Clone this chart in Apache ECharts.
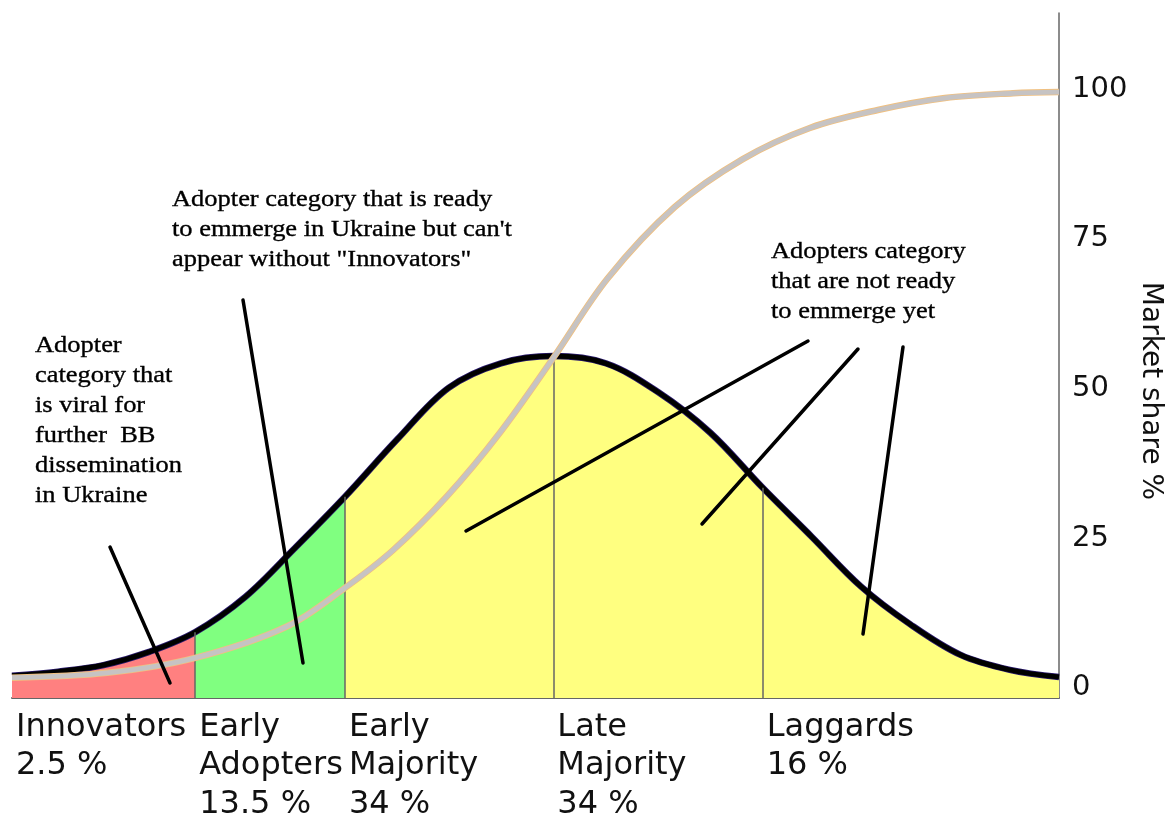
<!DOCTYPE html>
<html>
<head>
<meta charset="utf-8">
<title>Diffusion of innovations</title>
<script src="https://cdn.jsdelivr.net/npm/echarts@6/dist/echarts.min.js"></script>
<style>
  html, body { margin: 0; padding: 0; background: #fff; }
  #chart { width: 1169px; height: 816px; }
</style>
</head>
<body>
<div id="chart"></div>
<script>
// adopter categories, shares and where each one starts on the x scale (0..100)
var categories = ["Innovators", "Early\nAdopters", "Early\nMajority", "Late\nMajority", "Laggards"];
var shares = [2.5, 13.5, 34, 34, 16];
var catStart = [0, 17.5, 31.8, 51.7, 71.7];

// bell curve (adopters)
var bellX = [0, 4.4, 8.75, 13.1, 17.5, 22.3, 27.0, 31.8, 36.8, 41.7, 46.7, 51.7, 56.7, 61.7, 66.7, 71.7, 76.4, 81.1, 85.8, 90.6, 95.3, 100];
var bellY = [2.0, 2.7, 3.8, 6.0, 9.3, 15.2, 23.3, 31.9, 41.5, 50.1, 54.2, 55.4, 54.2, 49.4, 42.6, 33.4, 25.2, 16.9, 10.6, 5.5, 3.0, 1.8];

// cumulative market share (S-curve)
var shareX = [0, 9.1, 17.5, 26.2, 31.8, 36.4, 41.5, 46.6, 51.7, 56.9, 63.3, 69.8, 76.2, 82.7, 89.1, 95.6, 100];
var shareY = [1.7, 2.5, 5.0, 10.2, 16.7, 23.0, 31.9, 42.6, 55.1, 68.4, 80.3, 88.3, 93.5, 96.5, 98.5, 99.3, 99.5];

// right axis labels
var yTicks = [0, 25, 50, 75, 100];

var yMin = -1.7, yMax = 112.7;

function pairs(xs, ys) {
    return xs.map(function (x, i) { return [x, ys[i]]; });
}
var bell = pairs(bellX, bellY);
var share = pairs(shareX, shareY);

function bellAt(x) {
    var i = bellX.indexOf(x);
    return bellY[i];
}

// thin grey separators at category borders (skip the very first one at 0)
var borders = catStart.slice(1).map(function (x) {
    return [{ coord: [x, yMin] }, { coord: [x, bellAt(x)] }];
});

var serifFont = '23px "Liberation Serif", "Times New Roman", serif';

function note(x, y, text) {
    return {
        type: "text", x: x, y: y, scaleX: 1.15, z: 100,
        style: {
            text: text, font: serifFont, lineHeight: 30, fill: "#000",
            stroke: "#000", lineWidth: 0.35, align: "left", verticalAlign: "top"
        }
    };
}
function leader(x1, y1, x2, y2) {
    return {
        type: "line", z: 100,
        shape: { x1: x1, y1: y1, x2: x2, y2: y2 },
        style: { stroke: "#000", lineWidth: 3.5, lineCap: "round" }
    };
}

var smoothness = 0.35;

var chart = echarts.init(document.getElementById("chart"));
chart.setOption({
    animation: false,
    backgroundColor: "#fff",
    grid: { left: 12, right: 110, top: 13, bottom: 118, containLabel: false, outerBoundsMode: "none" },
    xAxis: {
        type: "value",
        min: 0,
        max: 100,
        splitLine: { show: false },
        axisTick: { show: false },
        axisLine: { show: true, onZero: false, lineStyle: { color: "#666", width: 2 } },
        axisLabel: {
            customValues: catStart,
            align: "left",
            margin: 10,
            padding: [0, 0, 0, 4],
            color: "#111",
            fontFamily: "DejaVu Sans",
            fontSize: 32,
            lineHeight: 38.5,
            formatter: function (v) {
                var i = catStart.indexOf(v);
                return i < 0 ? "" : categories[i] + "\n" + shares[i] + " %";
            }
        }
    },
    yAxis: {
        type: "value",
        position: "right",
        min: yMin,
        max: yMax,
        splitLine: { show: false },
        axisTick: { show: false },
        axisLine: { show: true, onZero: false, lineStyle: { color: "#666", width: 1.5 } },
        axisLabel: {
            customValues: yTicks,
            margin: 13,
            color: "#111",
            fontFamily: "DejaVu Sans",
            fontSize: 29
        }
    },
    visualMap: {
        show: false,
        type: "piecewise",
        dimension: 0,
        seriesIndex: 0,
        pieces: [
            { lt: catStart[1], color: "#ff8080" },
            { gte: catStart[1], lt: catStart[2], color: "#80ff80" },
            { gte: catStart[2], color: "#ffff80" }
        ]
    },
    series: [
        {
            type: "line",
            data: bell,
            smooth: smoothness,
            symbol: "none",
            lineStyle: { width: 0 },
            areaStyle: { opacity: 1, origin: "start" },
            z: 1,
            markLine: {
                silent: true,
                symbol: "none",
                label: { show: false },
                lineStyle: { color: "#666", width: 1.5, type: "solid" },
                data: borders
            }
        },
        {
            type: "line", data: bell, smooth: smoothness, symbol: "none", z: 3,
            lineStyle: { color: "#2a1a6e", width: 6.5 }
        },
        {
            type: "line", data: bell, smooth: smoothness, symbol: "none", z: 4,
            lineStyle: { color: "#000", width: 5 }
        },
        {
            type: "line", data: share, smooth: smoothness, symbol: "none", z: 5,
            lineStyle: { color: "#f0c080", width: 6.5 }
        },
        {
            type: "line", data: share, smooth: smoothness, symbol: "none", z: 6,
            lineStyle: { color: "#c6c3c3", width: 4.8 }
        }
    ],
    graphic: [
        {
            type: "text", x: 1150, y: 391, rotation: -Math.PI / 2, z: 100,
            style: { text: "Market share %", font: '28px "DejaVu Sans"', fill: "#111", align: "center", verticalAlign: "middle" }
        },
        note(35, 331, "Adopter\ncategory that\nis viral for\nfurther  BB\ndissemination\nin Ukraine"),
        note(172, 185, "Adopter category that is ready\nto emmerge in Ukraine but can't\nappear without \"Innovators\""),
        note(771, 237, "Adopters category\nthat are not ready\nto emmerge yet"),
        leader(110, 547, 170, 683),
        leader(243, 300, 303, 663),
        leader(808, 341, 466, 531),
        leader(858, 349, 702, 524),
        leader(903, 347, 863, 634)
    ]
});
</script>
</body>
</html>
